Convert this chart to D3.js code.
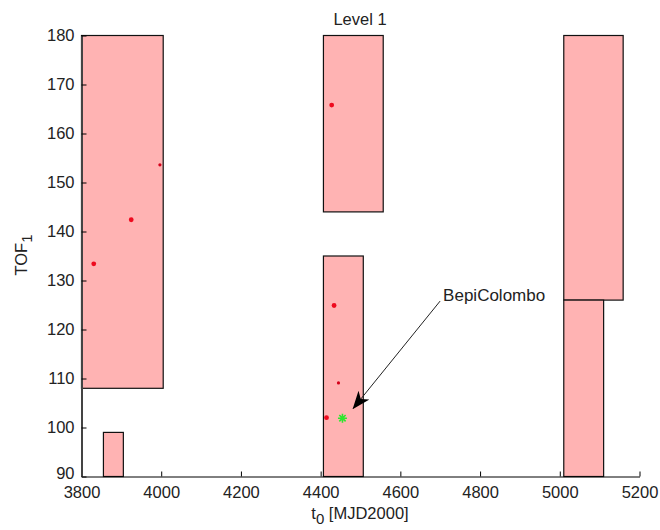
<!DOCTYPE html>
<html>
<head>
<meta charset="utf-8">
<script src="https://cdn.jsdelivr.net/npm/d3@7"></script>
<style>
  html, body { margin: 0; padding: 0; background: #fff; }
  svg { display: block; font-family: "Liberation Sans", Arial, sans-serif; }
</style>
</head>
<body>
<svg id="chart" width="660" height="530"></svg>
<script>
// ---- data ----
const titleText = "Level 1";
const xTicks = [3800, 4000, 4200, 4400, 4600, 4800, 5000, 5200];
const yTicks = [90, 100, 110, 120, 130, 140, 150, 160, 170, 180];

// pruned boxes (t0 range, TOF range)
const boxT0Start = [3800, 3855, 4407, 4407, 5010, 5010];
const boxT0End   = [4005, 3905, 4557, 4507, 5159, 5110];
const boxTofLow  = [108, 90, 144, 90, 126, 90];
const boxTofHigh = [180, 99, 180, 135, 180, 126];

// solutions found
const solT0  = [3832, 3926, 3998, 4429, 4435, 4446, 4416];
const solTof = [133.3, 142.3, 153.5, 165.7, 124.8, 109.0, 101.9];

// BepiColombo reference
const bepiT0 = [4456];
const bepiTof = [101.8];
const annText = "BepiColombo";
const annFrom = [4701, 125.7];
const annTo = [4483, 103.8];

// ---- layout ----
const svg = d3.select("#chart");
const x = d3.scaleLinear().domain([3800, 5200]).range([81, 639]);
const y = d3.scaleLinear().domain([90, 180]).range([476, 35]);
const font = 16.5;

// boxes
svg.append("g").selectAll("rect")
  .data(boxT0Start.map((d, i) => ({x0: d, x1: boxT0End[i], y0: boxTofLow[i], y1: boxTofHigh[i]})))
  .join("rect")
  .attr("x", d => x(d.x0) + 0.5)
  .attr("y", d => y(d.y1) + 0.5)
  .attr("width", d => x(d.x1) - x(d.x0))
  .attr("height", d => y(d.y0) - y(d.y1))
  .attr("fill", "#ffb3b3")
  .attr("stroke", "#111")
  .attr("stroke-width", 1.2);

// axes
const xAxis = d3.axisBottom(x).tickValues(xTicks).tickFormat(d3.format("d"))
  .tickSizeInner(-5).tickSizeOuter(0).tickPadding(10);
const yAxis = d3.axisLeft(y).tickValues(yTicks).tickFormat(d3.format("d"))
  .tickSizeInner(-5).tickSizeOuter(0).tickPadding(7);

const gx = svg.append("g").attr("transform", "translate(0.5,476.5)").call(xAxis);
const gy = svg.append("g").attr("transform", "translate(81.5,0.5)").call(yAxis);
[gx, gy].forEach(g => {
  g.selectAll("text").attr("font-size", font).attr("font-family", "Liberation Sans, Arial, sans-serif").attr("fill", "#222");
  g.selectAll("line").attr("stroke", "#000");
  g.select(".domain").attr("stroke", "#000");
});
gy.select(".domain").attr("stroke", "#444").attr("stroke-width", 2);
// lift the lowest y label slightly so it does not collide with the first x label
gy.selectAll(".tick").filter(d => d === yTicks[0]).select("text").attr("dy", "0.12em");

// solution dots
const smallDots = new Set([2, 5]);
svg.append("g").selectAll("circle")
  .data(solT0.map((d, i) => ({t: d, v: solTof[i], i})))
  .join("circle")
  .attr("cx", d => x(d.t))
  .attr("cy", d => y(d.v))
  .attr("r", d => smallDots.has(d.i) ? 1.6 : 2.4)
  .attr("fill", d => smallDots.has(d.i) ? "#d4001a" : "#ee0a1e");

// BepiColombo star
const star = svg.append("g").selectAll("g")
  .data(bepiT0.map((d, i) => ({t: d, v: bepiTof[i]})))
  .join("g")
  .attr("transform", d => `translate(${x(d.t)},${y(d.v)})`);
const sr = 4.5;
star.append("path")
  .attr("d", `M${-sr},0L${sr},0M0,${-sr}L0,${sr}M${-sr*0.7},${-sr*0.7}L${sr*0.7},${sr*0.7}M${-sr*0.7},${sr*0.7}L${sr*0.7},${-sr*0.7}`)
  .attr("stroke", "#2ee62e").attr("stroke-width", 1.6).attr("fill", "none");

// annotation arrow
const defs = svg.append("defs");
defs.append("marker")
  .attr("id", "ah").attr("viewBox", "0 0 18 14").attr("refX", 17).attr("refY", 7)
  .attr("markerWidth", 18).attr("markerHeight", 14).attr("markerUnits", "userSpaceOnUse")
  .attr("orient", "auto")
  .append("path").attr("d", "M0,0L18,7L0,14L5,7Z").attr("fill", "#000");
svg.append("line")
  .attr("x1", x(annFrom[0])).attr("y1", y(annFrom[1]))
  .attr("x2", x(annTo[0])).attr("y2", y(annTo[1]))
  .attr("stroke", "#222").attr("stroke-width", 1)
  .attr("marker-end", "url(#ah)");
svg.append("text")
  .attr("x", x(annFrom[0]) + 3).attr("y", y(annFrom[1]))
  .attr("font-size", 17).attr("fill", "#222")
  .text(annText);

// title
svg.append("text").attr("x", 360).attr("y", 25).attr("text-anchor", "middle")
  .attr("font-size", font).attr("fill", "#222").text(titleText);

// x label
const xl = svg.append("text").attr("x", 360).attr("y", 519).attr("text-anchor", "middle")
  .attr("font-size", font).attr("fill", "#222");
xl.append("tspan").text("t");
xl.append("tspan").attr("dy", 5).attr("font-size", 15).text("0");
xl.append("tspan").attr("dy", -5).text(" [MJD2000]");

// y label
const yl = svg.append("text").attr("transform", "translate(27,255) rotate(-90)")
  .attr("text-anchor", "middle").attr("font-size", font).attr("fill", "#222");
yl.append("tspan").text("TOF");
yl.append("tspan").attr("dy", 5).attr("font-size", 15).text("1");
</script>
</body>
</html>
